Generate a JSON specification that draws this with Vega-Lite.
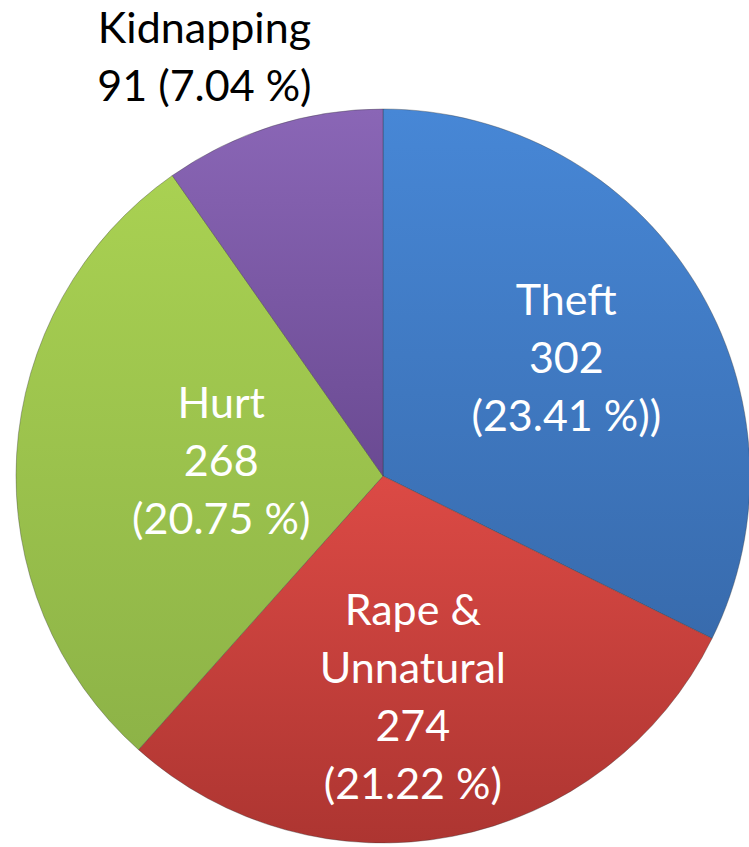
{
  "$schema": "https://vega.github.io/schema/vega-lite/v6.json",
  "width": 732,
  "height": 742,
  "autosize": "none",
  "padding": {"left": 17, "top": 105, "right": 0, "bottom": 0},
  "background": "white",
  "data": {
    "values": [
      {"cat": "Theft", "value": 302, "label": "Theft\n302\n(23.41 %))"},
      {"cat": "Rape & Unnatural", "value": 274, "label": "Rape &\nUnnatural\n274\n(21.22 %)"},
      {"cat": "Hurt", "value": 268, "label": "Hurt\n268\n(20.75 %)"},
      {"cat": "Kidnapping", "value": 91, "label": "Kidnapping\n91 (7.04 %)"}
    ]
  },
  "encoding": {
    "theta": {"field": "value", "type": "quantitative", "stack": true},
    "order": {"field": "value", "type": "quantitative", "sort": "descending"}
  },
  "layer": [
    {
      "mark": {"type": "arc", "outerRadius": 367, "stroke": "#333333", "strokeOpacity": 0.35, "strokeWidth": 1},
      "encoding": {
        "fill": {
          "condition": [
            {"test": "datum.cat === 'Theft'", "value": {"gradient": "linear", "x1": 0, "y1": 0, "x2": 0, "y2": 1, "stops": [{"offset": 0, "color": "#4787d6"}, {"offset": 1, "color": "#386bad"}]}},
            {"test": "datum.cat === 'Rape & Unnatural'", "value": {"gradient": "linear", "x1": 0, "y1": 0, "x2": 0, "y2": 1, "stops": [{"offset": 0, "color": "#dc4a45"}, {"offset": 1, "color": "#ad3531"}]}},
            {"test": "datum.cat === 'Hurt'", "value": {"gradient": "linear", "x1": 0, "y1": 0, "x2": 0, "y2": 1, "stops": [{"offset": 0, "color": "#a9d152"}, {"offset": 1, "color": "#8db347"}]}}
          ],
          "value": {"gradient": "linear", "x1": 0, "y1": 0, "x2": 0, "y2": 1, "stops": [{"offset": 0, "color": "#8a66b6"}, {"offset": 1, "color": "#6a4a92"}]}
        }
      }
    },
    {
      "mark": {"type": "text", "radius": 217, "dx": -1, "dy": -59, "font": "Lato", "fontSize": 43, "lineHeight": 58, "lineBreak": "\n", "fill": "white", "align": "center", "baseline": "middle"},
      "encoding": {"text": {"condition": {"test": "datum.cat === 'Theft'", "field": "label"}, "value": ""}}
    },
    {
      "mark": {"type": "text", "radius": 225, "dx": -13, "dy": -85, "font": "Lato", "fontSize": 43, "lineHeight": 58, "lineBreak": "\n", "fill": "white", "align": "center", "baseline": "middle"},
      "encoding": {"text": {"condition": {"test": "datum.cat === 'Rape & Unnatural'", "field": "label"}, "value": ""}}
    },
    {
      "mark": {"type": "text", "radius": 162, "dx": 0, "dy": -61, "font": "Lato", "fontSize": 43, "lineHeight": 58, "lineBreak": "\n", "fill": "white", "align": "center", "baseline": "middle"},
      "encoding": {"text": {"condition": {"test": "datum.cat === 'Hurt'", "field": "label"}, "value": ""}}
    },
    {
      "mark": {"type": "text", "radius": 457, "dx": -41, "dy": -10, "font": "Lato", "fontSize": 43, "lineHeight": 58, "lineBreak": "\n", "fill": "black", "align": "center", "baseline": "middle"},
      "encoding": {"text": {"condition": {"test": "datum.cat === 'Kidnapping'", "field": "label"}, "value": ""}}
    }
  ],
  "config": {"view": {"stroke": null}}
}
